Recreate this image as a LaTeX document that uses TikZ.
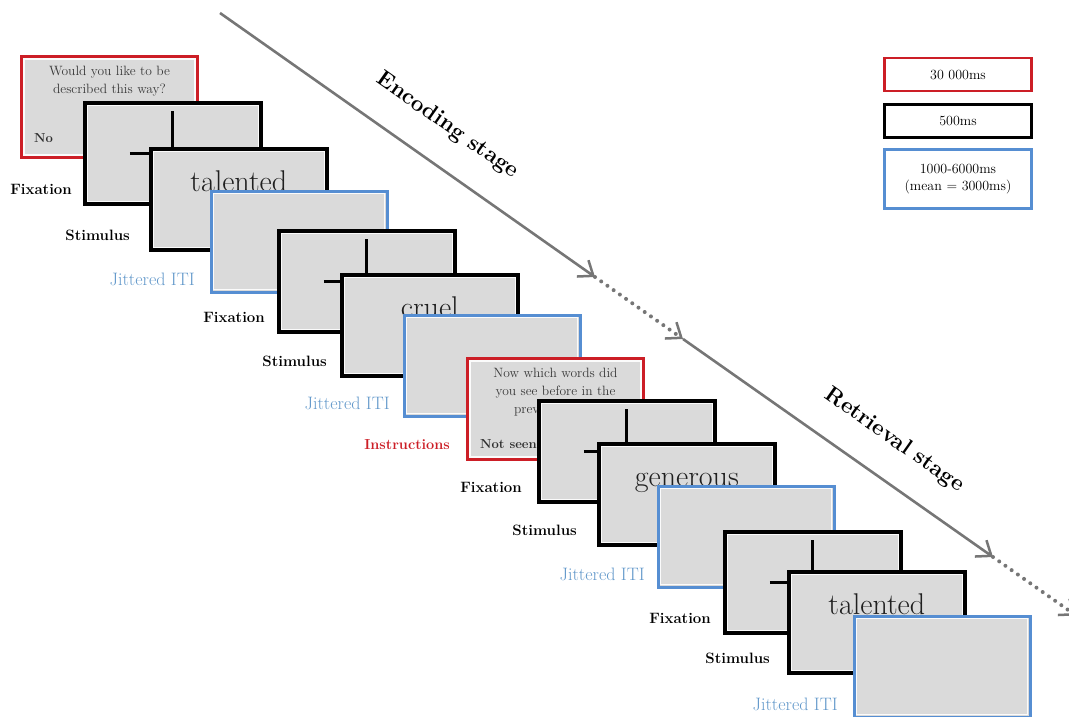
\documentclass[tikz,border=0pt]{standalone}
\usetikzlibrary{arrows.meta}
\definecolor{instrred}{RGB}{204,30,38}
\definecolor{itiblue}{RGB}{86,142,210}
\definecolor{labblue}{RGB}{98,152,202}
\definecolor{screengray}{RGB}{218,218,218}
\definecolor{arrowgray}{RGB}{118,118,118}
\begin{document}
\begin{tikzpicture}[x=1pt,y=-1pt,line cap=butt,line join=miter]
	\tikzset{screen/.style={anchor=north west,fill=screengray,minimum width=176pt,minimum height=101pt,inner sep=0pt,
			path picture={\draw[white!90!screengray,line width=1.1pt] ([shift={(2.5pt,-2.5pt)}]path picture bounding box.north west) rectangle ([shift={(-2.5pt,2.5pt)}]path picture bounding box.south east);}},
		fixbox/.style={screen,draw=black,line width=3.6pt},
		itibox/.style={screen,draw=itiblue,line width=2.6pt},
		instrbox/.style={screen,draw=instrred,line width=3pt},
		crossline/.style={line width=3pt},
		word/.style={anchor=base,inner sep=0pt,text=black!88,font=\fontsize{30}{36}\selectfont},
		instrtext/.style={anchor=north,inner sep=0pt,align=center,text=black!78,font=\fontsize{13.5}{18}\selectfont},
		answer/.style={anchor=west,inner sep=0pt,text=black!82,font=\bfseries\fontsize{13}{14}\selectfont},
		lab/.style={anchor=east,inner sep=0pt,font=\bfseries\fontsize{15}{16}\selectfont},
		itilab/.style={lab,text=labblue,font=\fontsize{18}{18}\selectfont},
		instrlab/.style={lab,text=instrred,font=\bfseries\fontsize{14.5}{16}\selectfont},
		legbox/.style={fill=white,minimum width=147pt,inner sep=0pt,align=center,font=\fontsize{14}{17}\selectfont},
		stagearrow/.style={draw=arrowgray,line width=2.6pt,-{Straight Barb[length=13pt,width=20pt,line width=2.5pt]}},
		stagedots/.style={stagearrow,line width=4pt,line cap=round,dash pattern=on 0pt off 7.6pt},
		stagetext/.style={sloped,above=24pt,font=\bfseries\fontsize{22.5}{24}\selectfont}}
	\useasboundingbox (0,0) rectangle (1069,716);
	% encoding: first block
	\node[instrbox] (i1) at (20,55) {};
	\node[instrtext] (q1) at ([yshift=-11pt]i1.north) {Would you like to be\\described this way?};
	\node[answer] (n1) at ([shift={(14pt,21pt)}]i1.south west) {No};
	\node[fixbox] (f1) at (83,101) {};
	\draw[crossline] ([yshift=42pt]f1.center) -- ([yshift=-42pt]f1.center);
	\draw[crossline] ([xshift=-43pt]f1.center) -- ([xshift=43pt]f1.center);
	\node[fixbox] (s1) at (149,147) {};
	\node[word] (w1) at ([yshift=-44pt]s1.north) {talented};
	\node[itibox] (t1) at (210,190) {};
	% encoding: second block
	\node[fixbox] (f2) at (277,229) {};
	\draw[crossline] ([yshift=42pt]f2.center) -- ([yshift=-42pt]f2.center);
	\draw[crossline] ([xshift=-43pt]f2.center) -- ([xshift=43pt]f2.center);
	\node[fixbox] (s2) at (340,273) {};
	\node[word] (w2) at ([yshift=-44pt]s2.north) {cruel};
	\node[itibox] (t2) at (403,314) {};
	% retrieval
	\node[instrbox] (i2) at (466,357) {};
	\node[instrtext] (q2) at ([yshift=-11pt]i2.north) {Now which words did\\you see before in the\\previous task?};
	\node[answer] (n2) at ([shift={(14pt,17pt)}]i2.south west) {Not seen};
	\node[fixbox] (f3) at (537,399) {};
	\draw[crossline] ([yshift=42pt]f3.center) -- ([yshift=-42pt]f3.center);
	\draw[crossline] ([xshift=-43pt]f3.center) -- ([xshift=43pt]f3.center);
	\node[fixbox] (s3) at (597,442) {};
	\node[word] (w3) at ([yshift=-44pt]s3.north) {generous};
	\node[itibox] (t3) at (657,485) {};
	\node[fixbox] (f4) at (723,530) {};
	\draw[crossline] ([yshift=42pt]f4.center) -- ([yshift=-42pt]f4.center);
	\draw[crossline] ([xshift=-43pt]f4.center) -- ([xshift=43pt]f4.center);
	\node[fixbox] (s4) at (787,570) {};
	\node[word] (w4) at ([yshift=-44pt]s4.north) {talented};
	\node[itibox] (t4) at (853,615) {};
	% labels
	\node[lab] (lf1) at ([shift={(-11pt,16pt)}]f1.south west) {Fixation};
	\node[lab] (ls1) at ([shift={(-19pt,16pt)}]s1.south west) {Stimulus};
	\node[itilab] (lt1) at ([shift={(-15pt,14pt)}]t1.south west) {Jittered ITI};
	\node[lab] (lf2) at ([shift={(-12pt,16pt)}]f2.south west) {Fixation};
	\node[lab] (ls2) at ([shift={(-13pt,16pt)}]s2.south west) {Stimulus};
	\node[itilab] (lt2) at ([shift={(-13pt,14pt)}]t2.south west) {Jittered ITI};
	\node[instrlab] (li2) at ([shift={(-16pt,16pt)}]i2.south west) {Instructions};
	\node[lab] (lf3) at ([shift={(-15pt,16pt)}]f3.south west) {Fixation};
	\node[lab] (ls3) at ([shift={(-20pt,16pt)}]s3.south west) {Stimulus};
	\node[itilab] (lt3) at ([shift={(-12pt,14pt)}]t3.south west) {Jittered ITI};
	\node[lab] (lf4) at ([shift={(-12pt,16pt)}]f4.south west) {Fixation};
	\node[lab] (ls4) at ([shift={(-17pt,16pt)}]s4.south west) {Stimulus};
	\node[itilab] (lt4) at ([shift={(-15pt,14pt)}]t4.south west) {Jittered ITI};
	% legend
	\node[legbox,draw=instrred,line width=2.6pt,minimum height=33pt] (lg1) at (958,74.5) {30 000ms};
	\node[legbox,draw=black,line width=3pt,minimum height=33pt] (lg2) at (958,121) {500ms};
	\node[legbox,draw=itiblue,line width=2.4pt,minimum height=59pt] (lg3) at (958,179) {1000-6000ms\\(mean = 3000ms)};
	% stages
	\coordinate (a0) at (220,13);
	\coordinate (a1) at (595,277);
	\coordinate (a2) at (683,339);
	\coordinate (a3) at (993,557);
	\coordinate (a4) at (1076,615.5);
	\draw[stagearrow] (a0) -- node[stagetext,pos=0.547] (enc) {Encoding stage} (a1);
	\draw[stagedots] (a1) -- (a2);
	\draw[stagearrow] (a2) -- node[stagetext,pos=0.61] (ret) {Retrieval stage} (a3);
	\draw[stagedots] (a3) -- (a4);
\end{tikzpicture}
\end{document}
